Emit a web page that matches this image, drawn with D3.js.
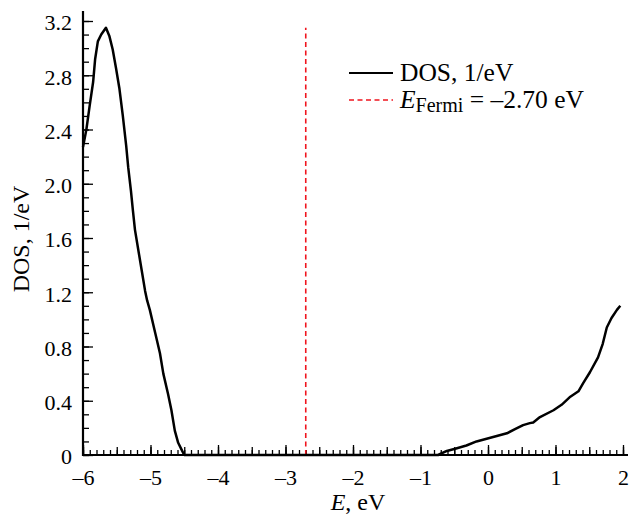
<!DOCTYPE html>
<html>
<head>
<meta charset="utf-8">
<script src="https://cdn.jsdelivr.net/npm/d3@7"></script>
<style>
    body { margin: 0; background: #fff; }
    svg { display: block; font-family: "Liberation Serif", "Times New Roman", serif; }
</style>
</head>
<body>
<svg id="chart" width="632" height="519"></svg>
<script>
// energy (eV) and density of states (1/eV)
var dosEnergy = [-6.0, -5.95, -5.90, -5.85, -5.82, -5.78, -5.73, -5.66, -5.61, -5.56,
    -5.51, -5.46, -5.41, -5.36, -5.33, -5.29, -5.26, -5.23, -5.18, -5.13,
    -5.08, -5.05, -5.01, -4.93, -4.86, -4.81, -4.74, -4.69, -4.64, -4.59,
    -4.54, -4.50, -0.74, -0.61, -0.46, -0.32, -0.17, -0.02, 0.13, 0.28,
    0.40, 0.52, 0.62, 0.67, 0.77, 0.97, 1.09, 1.22, 1.34, 1.41,
    1.51, 1.63, 1.70, 1.76, 1.83, 1.91, 1.96];
var dosValues = [2.27, 2.40, 2.58, 2.75, 2.92, 3.05, 3.10, 3.15, 3.09, 2.99,
    2.85, 2.70, 2.50, 2.28, 2.12, 1.95, 1.80, 1.66, 1.51, 1.36,
    1.21, 1.14, 1.07, 0.90, 0.75, 0.60, 0.45, 0.33, 0.18, 0.09,
    0.04, 0, 0, 0.03, 0.05, 0.07, 0.10, 0.12, 0.14, 0.16,
    0.19, 0.22, 0.235, 0.24, 0.28, 0.33, 0.37, 0.43, 0.47, 0.53,
    0.61, 0.72, 0.82, 0.94, 1.01, 1.07, 1.10];

var fermiEnergy = -2.70;

var xTicks = [-6, -5, -4, -3, -2, -1, 0, 1, 2];
var yTicks = [0, 0.4, 0.8, 1.2, 1.6, 2.0, 2.4, 2.8, 3.2];

var legendItems = [
    {key: 'dos', color: '#000', dash: null},
    {key: 'fermi', color: '#f0141e', dash: '5,3.5'}
];

var svg = d3.select('#chart');

var x = d3.scaleLinear().domain([-6, 2]).range([83, 623]);
var y = d3.scaleLinear().domain([0, 3.2]).range([455, 21]);

function fmtX(d) {
    return (d < 0 ? '\u2013' : '') + Math.abs(d);
}

function fmtY(d) {
    return d === 0 ? '0' : d.toFixed(1);
}

// minor ticks
var xMinor = d3.range(-60, 21).map(function(i) { return i / 10; });
var xMid = d3.range(-6, 2.01, 0.5);
var yMinor = d3.range(0, 33).map(function(i) { return i / 10; });

function styleAxis(g) {
    g.select('.domain').remove();
    g.selectAll('line').attr('stroke', '#000').attr('stroke-width', 1.3);
}

svg.append('g')
    .attr('transform', 'translate(0,455)')
    .call(d3.axisBottom(x).tickValues(xMinor).tickSize(-5).tickFormat(''))
    .call(styleAxis);

svg.append('g')
    .attr('transform', 'translate(0,455)')
    .call(d3.axisBottom(x).tickValues(xMid).tickSize(-8).tickFormat(''))
    .call(styleAxis);

var xAxis = svg.append('g')
    .attr('transform', 'translate(0,455)')
    .call(d3.axisBottom(x).tickValues(xTicks).tickSize(-10).tickPadding(14).tickFormat(fmtX))
    .call(styleAxis);

svg.append('g')
    .attr('transform', 'translate(83,0)')
    .call(d3.axisLeft(y).tickValues(yMinor).tickSize(-6).tickFormat(''))
    .call(styleAxis);

var yAxis = svg.append('g')
    .attr('transform', 'translate(83,0)')
    .call(d3.axisLeft(y).tickValues(yTicks).tickSize(-10).tickPadding(11).tickFormat(fmtY))
    .call(styleAxis);

svg.selectAll('.tick text')
    .attr('font-family', '"Liberation Serif", serif')
    .attr('font-size', 22)
    .attr('fill', '#000');
yAxis.selectAll('.tick text').attr('dy', '0.4em');

// axis lines
svg.append('line')
    .attr('x1', 83).attr('x2', 628)
    .attr('y1', 455).attr('y2', 455)
    .attr('stroke', '#000').attr('stroke-width', 2.2);
svg.append('line')
    .attr('x1', 83).attr('x2', 83)
    .attr('y1', 456).attr('y2', 11)
    .attr('stroke', '#000').attr('stroke-width', 2.2);

// fermi level
svg.append('line')
    .attr('x1', x(fermiEnergy)).attr('x2', x(fermiEnergy))
    .attr('y1', y(0)).attr('y2', y(d3.max(dosValues)))
    .attr('stroke', legendItems[1].color)
    .attr('stroke-width', 1.6)
    .attr('stroke-dasharray', legendItems[1].dash);

// DOS curve
var line = d3.line()
    .x(function(d, i) { return x(dosEnergy[i]); })
    .y(function(d) { return y(d); });

svg.append('path')
    .datum(dosValues)
    .attr('fill', 'none')
    .attr('stroke', '#000')
    .attr('stroke-width', 2.5)
    .attr('stroke-linejoin', 'round')
    .attr('d', line);

// axis titles
svg.append('text')
    .attr('transform', 'translate(29,239) rotate(-90)')
    .attr('text-anchor', 'middle')
    .attr('font-size', 24)
    .text('DOS, 1/eV');

var xTitle = svg.append('text')
    .attr('x', 358).attr('y', 510)
    .attr('text-anchor', 'middle')
    .attr('font-size', 24);
xTitle.append('tspan').attr('font-style', 'italic').text('E');
xTitle.append('tspan').text(', eV');

// legend
var legend = svg.selectAll('.legend')
    .data(legendItems)
    .enter()
    .append('g')
    .attr('class', 'legend')
    .attr('transform', function(d, i) { return 'translate(349,' + (73 + i * 27) + ')'; });

legend.append('line')
    .attr('x1', 0).attr('x2', 44)
    .attr('stroke', function(d) { return d.color; })
    .attr('stroke-width', function(d) { return d.dash ? 1.6 : 2.2; })
    .attr('stroke-dasharray', function(d) { return d.dash; });

legend.each(function(d) {
    var t = d3.select(this).append('text')
        .attr('x', 51).attr('y', 8)
        .attr('font-size', 25.5);
    if (d.key === 'dos') {
        t.text('DOS, 1/eV');
    } else {
        t.append('tspan').attr('font-style', 'italic').text('E');
        t.append('tspan').attr('font-size', 20).attr('dy', 4).text('Fermi');
        t.append('tspan').attr('dy', -4).text(' = \u2013' + Math.abs(fermiEnergy).toFixed(2) + ' eV');
    }
});
</script>
</body>
</html>
